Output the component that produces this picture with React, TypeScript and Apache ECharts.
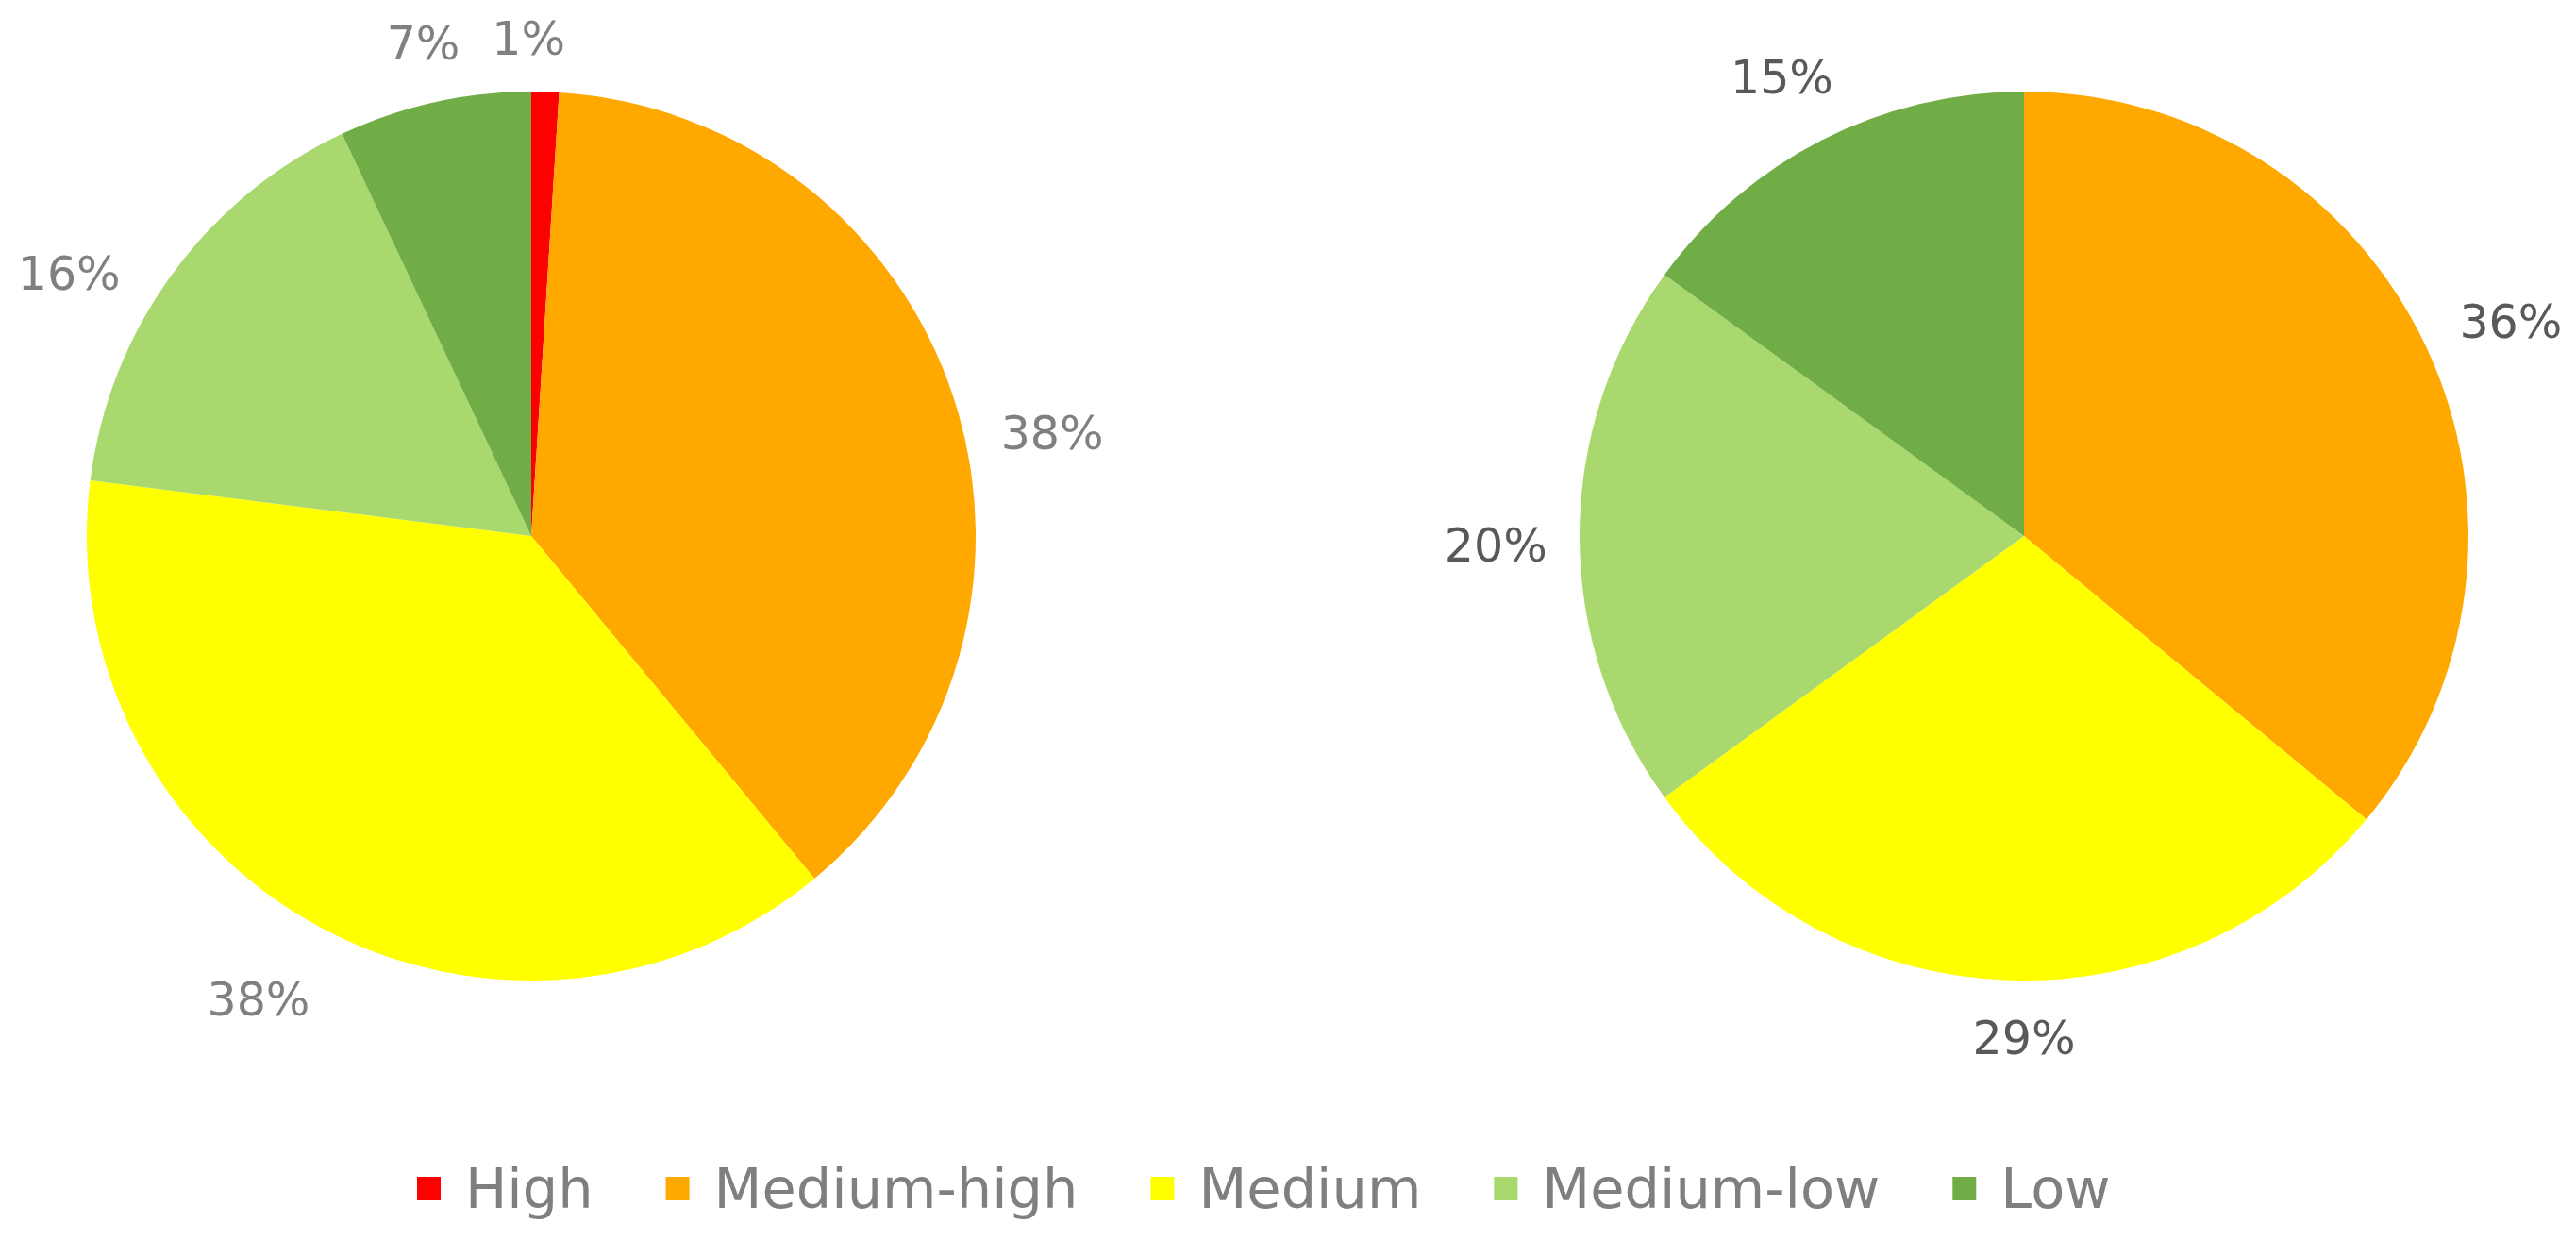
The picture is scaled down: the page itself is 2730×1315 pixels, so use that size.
import React, { useEffect, useRef } from "react";
import * as echarts from "echarts";

const categories = ["High", "Medium-high", "Medium", "Medium-low", "Low"];
const leftValues = [1, 38, 38, 16, 7];
const rightValues = [0, 36, 29, 20, 15];
const sliceColors = ["#FF0000", "#FFA800", "#FFFF00", "#A9D86E", "#70AD47"];

// label placement tweaks (degrees of rotation from slice middle, extra radial px)
const leftLabelNudge = [-2.1, 6.6, 1.8, -6.2, 0.3];
const leftLabelExtra = [0, 0, 14, 0, 0];
const rightLabelNudge = [0, 1.2, -1.8, -0.8, -0.7];
const rightLabelExtra = [0, 0, 0, 0, 0];

const W = 2730;
const H = 1315;
const R = 471;
const LEFT_CENTER = [563, 568];
const RIGHT_CENTER = [2145, 568];
const LABEL_FONT = 49;
const LABEL_GAP = 34;
const LABEL_DY = 3;

function buildData(values: number[]) {
  return categories
    .map((name, i) => ({ name, value: values[i], itemStyle: { color: sliceColors[i] } }))
    .filter((d) => d.value > 0);
}

function makeLayout(values: number[], center: number[], nudge: number[], extra: number[]) {
  const idxs = values.map((v, i) => (v > 0 ? i : -1)).filter((i) => i >= 0);
  const vals = idxs.map((i) => values[i]);
  const total = vals.reduce((a, b) => a + b, 0);
  return (params: any) => {
    const idx = params.dataIndex;
    const cat = idxs[idx];
    let cum = 0;
    for (let i = 0; i < idx; i++) cum += vals[i];
    const mid = ((cum + vals[idx] / 2) / total) * Math.PI * 2 + (nudge[cat] * Math.PI) / 180;
    const dx = Math.sin(mid);
    const dy = -Math.cos(mid);
    const w = (params.labelRect?.width ?? 100) / 2;
    const h = LABEL_FONT * 0.5;
    const d = R + LABEL_GAP + Math.abs(dx) * w + Math.abs(dy) * h + extra[cat];
    return {
      x: center[0] + dx * d,
      y: center[1] + dy * d + LABEL_DY,
      align: "center",
      verticalAlign: "middle",
    };
  };
}

function pieSeries(
  values: number[],
  center: number[],
  labelColor: string,
  nudge: number[],
  extra: number[]
) {
  return {
    type: "pie",
    center,
    radius: R,
    startAngle: 90,
    clockwise: true,
    avoidLabelOverlap: false,
    data: buildData(values),
    itemStyle: { borderWidth: 0 },
    label: {
      show: true,
      position: "outside",
      formatter: "{c}%",
      fontFamily: "DejaVu Sans",
      fontSize: LABEL_FONT,
      color: labelColor,
    },
    labelLine: { show: false },
    labelLayout: makeLayout(values, center, nudge, extra),
    emphasis: { disabled: true },
  };
}

export default function App() {
  const ref = useRef<HTMLDivElement>(null);
  useEffect(() => {
    if (!ref.current) return;
    const chart = echarts.init(ref.current, undefined, { renderer: "svg" });
    chart.setOption({
      animation: false,
      backgroundColor: "#ffffff",
      legend: {
        data: categories,
        left: 442,
        top: 1230,
        padding: 0,
        itemWidth: 25,
        itemHeight: 25,
        itemGap: 77,
        icon: "rect",
        selectedMode: false,
        textStyle: {
          fontFamily: "DejaVu Sans",
          fontSize: 59,
          color: "#7f7f7f",
          padding: [0, 0, 0, 21],
        },
      },
      series: [
        pieSeries(leftValues, LEFT_CENTER, "#808080", leftLabelNudge, leftLabelExtra),
        pieSeries(rightValues, RIGHT_CENTER, "#595959", rightLabelNudge, rightLabelExtra),
      ],
    });
    return () => chart.dispose();
  }, []);
  return (
    <div
      ref={ref}
      style={{ position: "fixed", left: 0, top: 0, width: W, height: H }}
    />
  );
}
